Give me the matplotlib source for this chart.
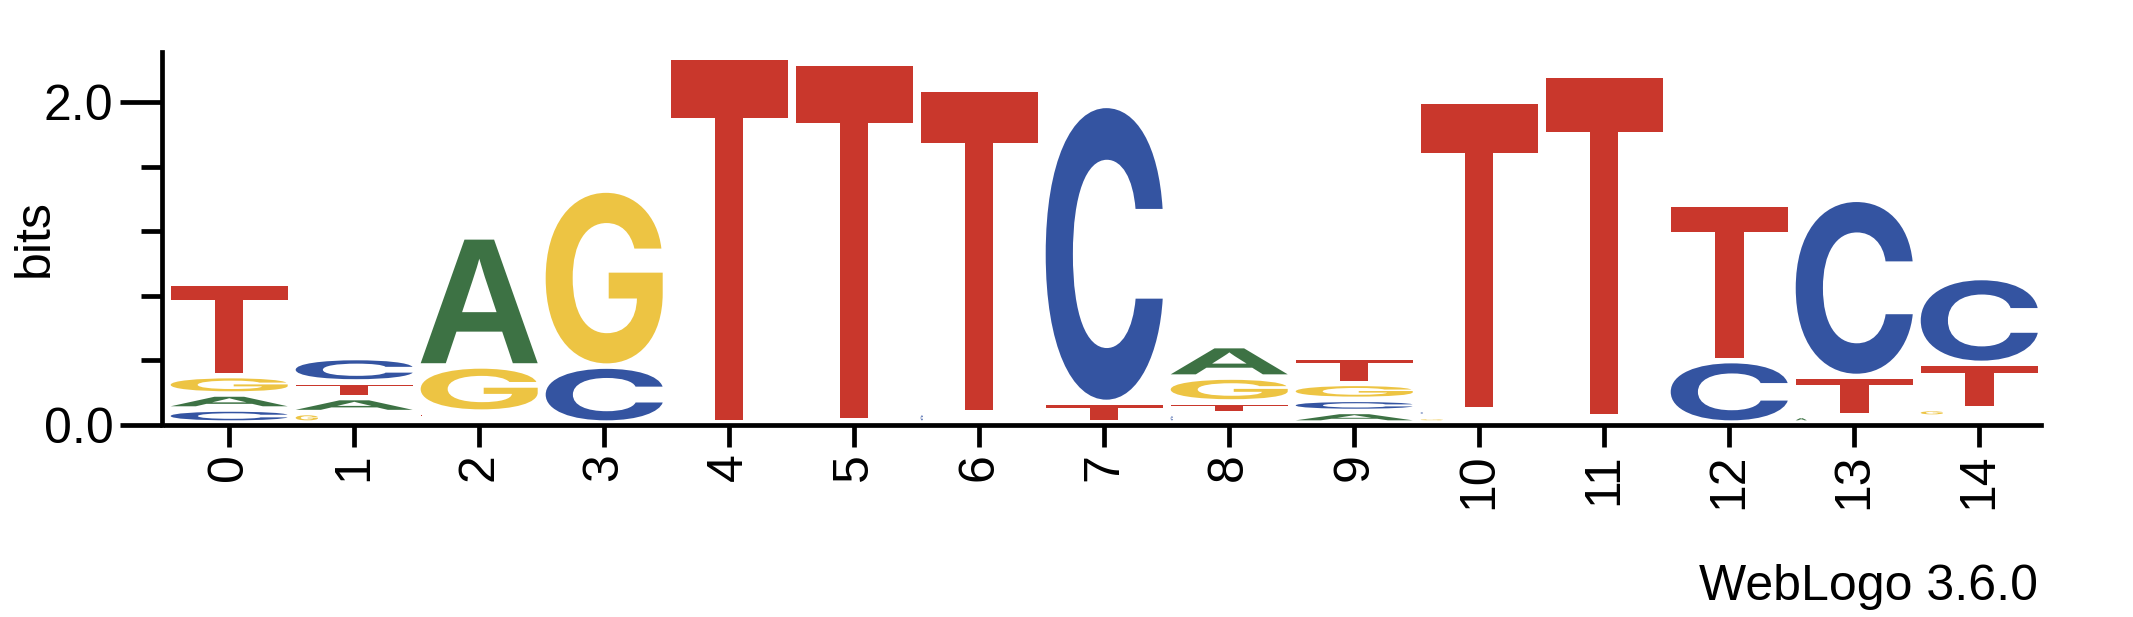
import numpy as np
import matplotlib.pyplot as plt
from matplotlib.textpath import TextPath
from matplotlib.patches import PathPatch
from matplotlib.path import Path
from matplotlib.font_manager import FontProperties

plt.rcParams['font.family'] = ['Liberation Sans', 'DejaVu Sans']

# sequence logo data: bits per letter at each position
positions = list(range(15))
bits_A = [0.093, 0.093, 0.800, 0, 0, 0, 0, 0, 0.195, 0.072, 0, 0.038, 0, 0.047, 0.037]
bits_C = [0.087, 0.151, 0, 0.353, 0, 0.014, 0.064, 1.841, 0.058, 0.075, 0.045, 0, 0.387, 1.098, 0.532]
bits_G = [0.114, 0.065, 0.286, 1.091, 0, 0, 0, 0, 0.154, 0.099, 0.040, 0, 0, 0, 0.053]
bits_T = [0.571, 0.097, 0.068, 0, 2.268, 2.215, 2.005, 0.128, 0.073, 0.161, 1.910, 2.117, 0.968, 0.242, 0.280]
ytick_labels = ['0.0', '2.0']

bits = {'A': bits_A, 'C': bits_C, 'G': bits_G, 'T': bits_T}
colours = {'A': '#3d7244', 'C': '#3454a1', 'G': '#edc443', 'T': '#c9372c'}
# tiny letters get squeezed sideways, like in the original render
narrow = {'G': 0.19, 'A': 0.095, 'C': 0.02, 'T': 0.01}
# Inter has the flat-cut C/G terminals of the original, Liberation the A/T
letter_font = {'A': 'Liberation Sans', 'T': 'Liberation Sans', 'C': 'Inter', 'G': 'Inter'}

glyphs = {ch: TextPath((0, 0), ch, size=1,
                       prop=FontProperties(family=letter_font[ch], weight='bold'))
          for ch in bits}

fig = plt.figure(figsize=(21.33, 6.17), dpi=100)
W, H = 2133, 617
ax = fig.add_axes([162.3 / W, (H - 425) / H, (2041 - 162.3) / W, (425 - 52) / H])
ax.set_xlim(-0.535, 14.494)
ax.set_ylim(0, 2.312)


def draw_letter(ch, xl, yb, w, h):
    p = glyphs[ch]
    bb = p.get_extents()
    v = (p.vertices - [bb.x0, bb.y0]) * [w / bb.width, h / bb.height] + [xl, yb]
    ax.add_patch(PathPatch(Path(v, p.codes), facecolor=colours[ch],
                           edgecolor='none', lw=0))


base = 0.012
pad = 0.017
full_w = 0.936
for i in positions:
    stack = sorted((bits[ch][i], ch) for ch in bits if bits[ch][i] > 0)
    y = base
    for h, ch in stack:
        gh = h - 2 * pad
        if gh > 0.004:
            w = full_w if h >= 0.07 else full_w * narrow[ch]
            draw_letter(ch, i - full_w / 2, y + pad, w, gh)
        y += h

for s in ['top', 'right']:
    ax.spines[s].set_visible(False)
for s in ['left', 'bottom']:
    ax.spines[s].set_linewidth(3.4)
ax.spines['left'].set_capstyle('projecting')
ax.spines['bottom'].set_bounds(-0.508, 14.494)

ax.set_yticks([0, 2.0])
ax.set_yticklabels(ytick_labels)
ax.set_yticks([0.4, 0.8, 1.2, 1.6], minor=True)
ax.set_xticks(positions)
ax.set_xticklabels([str(p) for p in positions], rotation=90)
ax.tick_params(axis='y', which='major', length=30.5, width=3.4, pad=4.8, labelsize=36)
ax.tick_params(axis='y', which='minor', length=15.3, width=3.4)
ax.tick_params(axis='x', length=15.6, width=3.4, pad=4.8, labelsize=36)

ax.set_ylabel('bits', fontsize=36)
ax.yaxis.set_label_coords(-0.0557, 0.5)

fig.text(2038 / W, 1 - 600 / H, 'WebLogo 3.6.0', ha='right', va='baseline', fontsize=36)

fig.savefig('out.png', dpi=100)
